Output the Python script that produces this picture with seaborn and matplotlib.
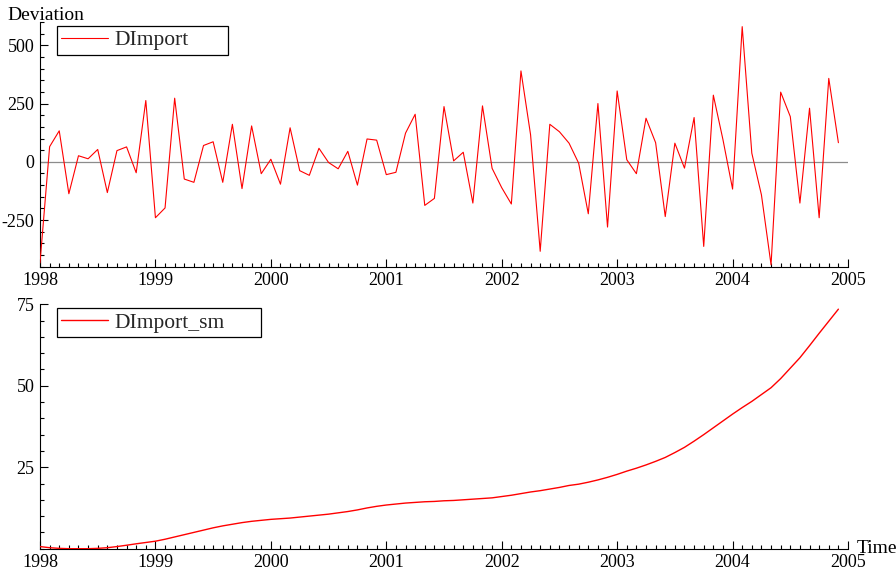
import numpy as np
import pandas as pd
import matplotlib
matplotlib.use("Agg")
import matplotlib.pyplot as plt
from matplotlib.ticker import MultipleLocator, FixedLocator
import seaborn as sns

# Monthly observations, January 1998 - December 2004
start_year = 1998
end_year = 2005

dimport = [
    -434, 65, 133, -137, 26, 13, 53, -132, 48, 64, -47, 263,
    -240, -198, 273, -74, -88, 70, 86, -88, 161, -115, 154, -51,
    11, -96, 146, -38, -58, 58, -3, -30, 45, -100, 98, 93,
    -55, -45, 123, 204, -187, -157, 237, 4, 41, -177, 240, -28,
    -111, -181, 390, 116, -384, 161, 129, 80, -6, -223, 250, -280,
    304, 9, -51, 187, 82, -235, 80, -27, 190, -363, 286, 95,
    -117, 580, 37, -142, -442, 299, 194, -177, 230, -240, 358, 82,
]

dimport_sm = [
    0.65, 0.3, 0.1, 0.0, 0.0, 0.0, 0.1, 0.3, 0.65, 1.06, 1.5, 1.9,
    2.3, 2.9, 3.6, 4.3, 5.0, 5.7, 6.4, 7.0, 7.5, 8.0, 8.4, 8.7,
    9.0, 9.2, 9.4, 9.7, 10.0, 10.3, 10.6, 11.0, 11.4, 11.9, 12.5, 13.0,
    13.4, 13.7, 14.0, 14.2, 14.4, 14.5, 14.7, 14.8, 15.0, 15.2, 15.4, 15.6,
    16.0, 16.4, 16.9, 17.4, 17.8, 18.3, 18.8, 19.4, 19.8, 20.4, 21.1, 21.9,
    22.8, 23.8, 24.7, 25.7, 26.8, 28.0, 29.5, 31.1, 33.0, 35.0, 37.1, 39.2,
    41.3, 43.3, 45.2, 47.3, 49.4, 52.2, 55.4, 58.6, 62.3, 66.1, 69.8, 73.5,
]

year_ticks = list(range(start_year, end_year + 1))
dev_ticks = [-250, 0, 250, 500]
sm_ticks = [25, 50, 75]

time = start_year + np.arange(len(dimport)) / 12.0
df = pd.DataFrame({"Time": time, "DImport": dimport, "DImport_sm": dimport_sm})

sns.set_theme(style="ticks")
plt.rcParams["font.family"] = ["Liberation Serif", "DejaVu Serif"]
plt.rcParams["axes.linewidth"] = 0.8
plt.rcParams["axes.unicode_minus"] = False

fig = plt.figure(figsize=(8.96, 5.74), dpi=100)
ax1 = fig.add_axes([0.04464, 0.5354, 0.9018, 0.4263])
ax2 = fig.add_axes([0.04464, 0.0441, 0.9018, 0.4258])

# Upper panel: raw deviations with a zero reference line
ax1.axhline(0, color="#8c8c8c", lw=0.9, zorder=1)
sns.lineplot(data=df, x="Time", y="DImport", ax=ax1, color="#ff0000",
             lw=0.8, label="DImport", zorder=3)
ax1.set_ylim(-450, 600)
ax1.yaxis.set_major_locator(FixedLocator(dev_ticks))
ax1.yaxis.set_minor_locator(MultipleLocator(50))

# Lower panel: smoothed series
sns.lineplot(data=df, x="Time", y="DImport_sm", ax=ax2, color="#ff0000",
             lw=1.0, label="DImport_sm", zorder=3)
ax2.set_ylim(0, 75)
ax2.yaxis.set_major_locator(FixedLocator(sm_ticks))
ax2.yaxis.set_minor_locator(MultipleLocator(5))

legend_widths = {ax1: 0.2116, ax2: 0.2525}
for ax in (ax1, ax2):
    ax.set_xlim(start_year, end_year)
    ax.xaxis.set_major_locator(FixedLocator(year_ticks))
    ax.xaxis.set_minor_locator(MultipleLocator(1 / 12))
    ax.set_xlabel("")
    ax.set_ylabel("")
    sns.despine(ax=ax)
    ax.spines["left"].set_color("black")
    ax.spines["bottom"].set_color("black")
    ax.tick_params(which="both", direction="in", color="black", width=0.8)
    ax.tick_params(which="major", length=5.5, labelsize=13, pad=4,
                   labelcolor="black")
    ax.tick_params(which="minor", length=2.8)
    ax.patch.set_alpha(0)
    leg = ax.legend(loc="upper left",
                    bbox_to_anchor=(0.021, 0.984, legend_widths[ax], 0.0),
                    mode="expand", borderaxespad=0, fontsize=15.5,
                    frameon=True, fancybox=False, shadow=False,
                    borderpad=0.2, handlelength=2.15, handletextpad=0.3)
    frame = leg.get_frame()
    frame.set_edgecolor("black")
    frame.set_linewidth(0.9)
    frame.set_facecolor("white")
    frame.set_alpha(1)

fig.text(7 / 896, 1 - 20 / 574, "Deviation", fontsize=14, ha="left",
         va="baseline", color="black")
fig.text(857 / 896, 1 - 553 / 574, "Time", fontsize=14, ha="left",
         va="baseline", color="black")

fig.savefig("out.png", dpi=100, facecolor="white")
